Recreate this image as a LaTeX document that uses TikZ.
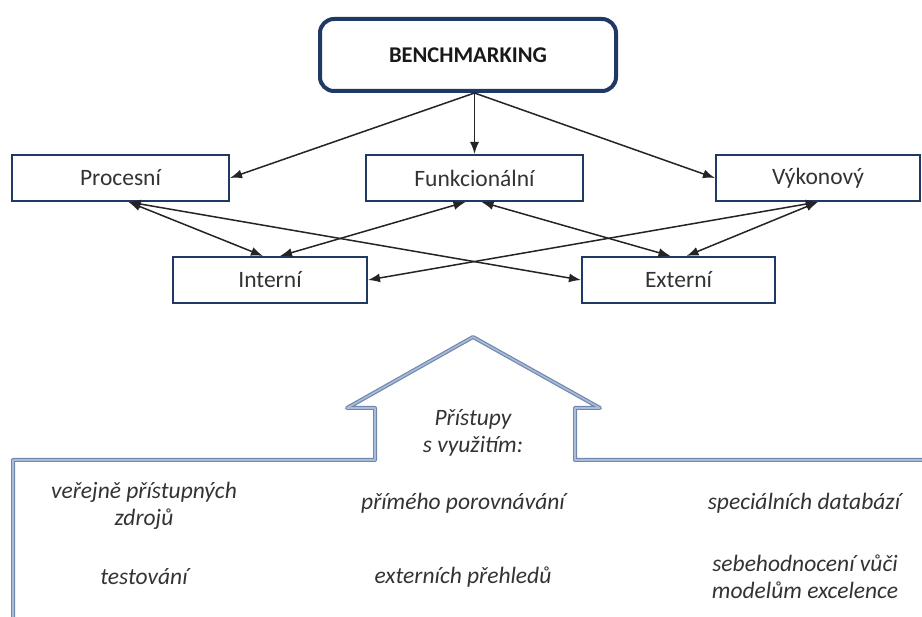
\documentclass[tikz,border=0pt]{standalone}
\usepackage{fontspec}
\setmainfont{Carlito}
\usetikzlibrary{arrows.meta}
\definecolor{navy}{RGB}{32,56,100}
\definecolor{roof}{RGB}{112,136,176}
\definecolor{roofin}{RGB}{170,188,214}
\definecolor{conn}{RGB}{35,35,40}
\tikzset{
  catbox/.style={draw=navy, line width=2pt, fill=white, minimum height=46pt, inner sep=0pt, font=\fontsize{23.5}{27}\selectfont, text=black!80},
  topbox/.style={draw=navy, line width=4pt, rounded corners=14pt, fill=white, minimum width=296pt, minimum height=72pt, font=\bfseries\fontsize{22.5}{27}\selectfont, text=black!90},
  link/.style={draw=conn, line width=1.5pt, -{Latex[length=12pt,width=9pt]}},
  dlink/.style={draw=conn, line width=1.5pt, {Latex[length=12pt,width=9pt]}-{Latex[length=12pt,width=9pt]}},
  approach/.style={font=\itshape\fontsize{23.5}{27.5}\selectfont, align=center, text=black!80},
  housewall/.style={draw=roof, line width=1.2pt, double=roofin, double distance=1.6pt, line join=round}
}
\begin{document}
\begin{tikzpicture}[x=1pt,y=-1pt]
\useasboundingbox (0,0) rectangle (922,617);
% house outline
\draw[housewall] (13,640) -- (13,460) -- (375,460) -- (375,408) -- (347,408) -- (473,337) -- (600,408) -- (575,408) -- (575,460) -- (930,460);
% top
\node[topbox] (bm) at (468,55) {BENCHMARKING};
\node[catbox, minimum width=217pt] (proc) at (120.5,178) {Procesní};
\node[catbox, minimum width=217pt] (func) at (474.5,178) {Funkcionální};
\node[catbox, minimum width=204pt] (vyk) at (818,178) {Výkonový};
\node[catbox, minimum width=194pt] (int) at (270,280) {Interní};
\node[catbox, minimum width=193pt] (ext) at (678.5,280) {Externí};
\coordinate (o) at (bm.south -| func.north);
\draw[link] (o) -- (proc.east);
\draw[link] (o) -- (func.north);
\draw[link] (o) -- (vyk.west);
\draw[dlink] ([xshift=8pt]proc.south) -- ([xshift=-7pt]int.north);
\draw[dlink] ([xshift=8pt]proc.south) -- (ext.west);
\draw[dlink] ([xshift=-9pt]func.south) -- ([xshift=10pt]int.north);
\draw[dlink] ([xshift=7pt]func.south) -- ([xshift=-8pt]ext.north);
\draw[dlink] (vyk.south) -- (int.east);
\draw[dlink] (vyk.south) -- ([xshift=8pt]ext.north);
% texts
\node[approach] (pr) at (473,433) {Přístupy\\s využitím:};
\node[approach] (a1) at (144,506) {veřejně přístupných\\zdrojů};
\node[approach] (a2) at (463,503) {přímého porovnávání};
\node[approach] (a3) at (804,503) {speciálních databází};
\node[approach] (a4) at (144,577) {testování};
\node[approach] (a5) at (463,577) {externích přehledů};
\node[approach] (a6) at (805,577) {sebehodnocení vůči\\modelům excelence};
\end{tikzpicture}
\end{document}
